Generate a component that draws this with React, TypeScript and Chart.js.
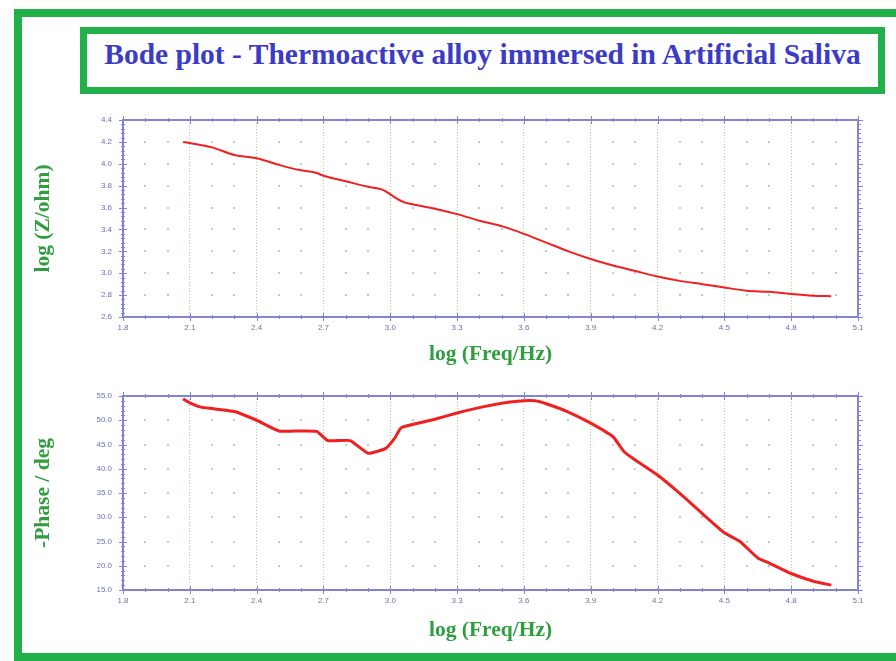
import React, { useEffect, useRef } from "react";
import { Chart, registerables } from "chart.js";

Chart.register(...registerables);

// ---------- data ----------
const TITLE = "Bode plot - Thermoactive alloy immersed in Artificial Saliva";
const X_TITLE = "log (Freq/Hz)";
const MAG_TITLE = "log (Z/ohm)";
const PHASE_TITLE = "-Phase / deg";

const xTicks = [1.8, 2.1, 2.4, 2.7, 3.0, 3.3, 3.6, 3.9, 4.2, 4.5, 4.8, 5.1];
const magTicks = [2.6, 2.8, 3.0, 3.2, 3.4, 3.6, 3.8, 4.0, 4.2, 4.4];
const phaseTicks = [15, 20, 25, 30, 35, 40, 45, 50, 55];

const magFreq = [
  2.07, 2.1, 2.2, 2.3, 2.4, 2.5, 2.6, 2.67, 2.7, 2.8, 2.9, 2.97, 3.0, 3.06, 3.1,
  3.2, 3.3, 3.4, 3.5, 3.6, 3.7, 3.8, 3.9, 4.0, 4.1, 4.2, 4.3, 4.4, 4.5, 4.6, 4.7,
  4.8, 4.9, 4.98,
];
const logZ = [
  4.2, 4.19, 4.15, 4.08, 4.05, 3.99, 3.94, 3.915, 3.89, 3.84, 3.79, 3.76, 3.72,
  3.65, 3.63, 3.59, 3.54, 3.48, 3.43, 3.36, 3.28, 3.2, 3.13, 3.07, 3.02, 2.97,
  2.93, 2.9, 2.87, 2.84, 2.83, 2.81, 2.795, 2.79,
];

const phaseFreq = [
  2.07, 2.1, 2.15, 2.2, 2.3, 2.4, 2.5, 2.6, 2.67, 2.72, 2.82, 2.9, 2.98, 3.02,
  3.05, 3.2, 3.3, 3.4, 3.5, 3.6, 3.65, 3.7, 3.8, 3.9, 4.0, 4.05, 4.1, 4.2, 4.3,
  4.4, 4.5, 4.57, 4.65, 4.7, 4.8, 4.9, 4.98,
];
const phase = [
  54.4, 53.6, 52.7, 52.4, 51.8, 50.0, 47.8, 47.8, 47.7, 45.8, 45.8, 43.2, 44.2,
  46.3, 48.5, 50.2, 51.5, 52.6, 53.5, 54.0, 54.0, 53.4, 51.7, 49.4, 46.6, 43.5,
  41.8, 38.7, 34.9, 30.8, 26.8, 25.0, 21.6, 20.6, 18.4, 16.8, 16.0,
];

// ---------- styles ----------
const FRAME_GREEN = "#22b04b";
const TITLE_BLUE = "#3b3bc6";
const AXIS_TITLE_GREEN = "#2f9e3f";
const AXIS_BLUE = "#8484d4";
const TICK_TEXT = "#6f6fae";
const GRID_GREEN = "rgba(160,205,120,0.9)";
const DOT_GREY = "rgba(190,190,190,0.85)";
const RED = "#f02020";

const decorPlugin = {
  id: "decor",
  beforeDatasetsDraw(chart: any, _args: any, opts: any) {
    const { ctx, chartArea: a, scales } = chart;
    const x = scales.x;
    const y = scales.y;
    ctx.save();
    ctx.fillStyle = DOT_GREY;
    const nx = Math.round((x.max - x.min) / opts.xMinor);
    for (let i = 1; i < nx; i++) {
      if (i % 3 === 0) continue;
      const px = x.getPixelForValue(x.min + i * opts.xMinor);
      for (const t of y.ticks) {
        const py = y.getPixelForValue(t.value);
        if (py <= a.top + 2 || py >= a.bottom - 2) continue;
        ctx.fillRect(Math.round(px) - 1, Math.round(py) - 1, 2, 2);
      }
    }
    ctx.restore();
  },
  afterDraw(chart: any, _args: any, opts: any) {
    const { ctx, chartArea: a, scales } = chart;
    const x = scales.x;
    const y = scales.y;
    ctx.save();
    ctx.strokeStyle = AXIS_BLUE;
    ctx.lineWidth = 2;
    ctx.strokeRect(a.left, a.top, a.right - a.left, a.bottom - a.top);
    ctx.lineWidth = 1;
    ctx.beginPath();
    const nx = Math.round((x.max - x.min) / opts.xMinor);
    for (let i = 0; i <= nx; i++) {
      const px = Math.round(x.getPixelForValue(x.min + i * opts.xMinor)) + 0.5;
      const len = i % 3 === 0 ? 4 : 2;
      ctx.moveTo(px, a.bottom - len);
      ctx.lineTo(px, a.bottom + len);
      ctx.moveTo(px, a.top - len);
      ctx.lineTo(px, a.top + len);
    }
    const ny = Math.round((y.max - y.min) / opts.yMinor);
    for (let i = 0; i <= ny; i++) {
      const py = Math.round(y.getPixelForValue(y.min + i * opts.yMinor)) + 0.5;
      const len = i % 5 === 0 ? 4 : 2;
      ctx.moveTo(a.left - len, py);
      ctx.lineTo(a.left + len, py);
      ctx.moveTo(a.right - 1, py);
      ctx.lineTo(a.right + len + 1, py);
    }
    ctx.stroke();
    ctx.restore();
  },
};

type PanelProps = {
  top: number;
  xs: number[];
  ys: number[];
  yTicks: number[];
  yMinor: number;
  yTitle: string;
  lineWidth: number;
  padTop: number;
  xAxisH: number;
  xTitlePad: number;
  tension: number;
  monotone: boolean;
};

const W = 896;
const H = 270;

function Panel(p: PanelProps) {
  const ref = useRef<HTMLCanvasElement | null>(null);
  useEffect(() => {
    if (!ref.current) return;
    const tickFont = { family: "'Liberation Sans', Arial, sans-serif", size: 8 };
    const titleFont = {
      family: "'Liberation Serif', 'Times New Roman', serif",
      size: 21.5,
      weight: "bold" as const,
    };
    const chart = new Chart(ref.current, {
      type: "line",
      data: {
        datasets: [
          {
            data: p.xs.map((x, i) => ({ x, y: p.ys[i] })),
            borderColor: RED,
            borderWidth: p.lineWidth,
            pointRadius: 0,
            tension: p.tension,
            cubicInterpolationMode: p.monotone ? "monotone" : "default",
            fill: false,
          },
        ],
      },
      plugins: [decorPlugin],
      options: {
        animation: false,
        responsive: false,
        devicePixelRatio: 1,
        layout: { padding: { top: p.padTop, right: 38, left: 0, bottom: 0 } },
        plugins: {
          legend: { display: false },
          tooltip: { enabled: false },
          decor: { xMinor: 0.1, yMinor: p.yMinor },
        } as any,
        scales: {
          x: {
            type: "linear",
            min: xTicks[0],
            max: xTicks[xTicks.length - 1],
            afterBuildTicks: (s: any) => {
              s.ticks = xTicks.map((v) => ({ value: v }));
            },
            afterFit: (s: any) => {
              s.height = p.xAxisH;
            },
            ticks: {
              font: tickFont,
              color: TICK_TEXT,
              padding: 6,
              maxRotation: 0,
              autoSkip: false,
              callback: (v: any) => Number(v).toFixed(1),
            },
            grid: { color: GRID_GREEN, lineWidth: 1, drawTicks: false },
            border: { display: false, dash: [1, 2] },
            title: {
              display: true,
              text: X_TITLE,
              color: AXIS_TITLE_GREEN,
              font: titleFont,
              padding: { top: 0, bottom: p.xTitlePad },
            },
          },
          y: {
            type: "linear",
            min: p.yTicks[0],
            max: p.yTicks[p.yTicks.length - 1],
            afterBuildTicks: (s: any) => {
              s.ticks = p.yTicks.map((v) => ({ value: v }));
            },
            afterFit: (s: any) => {
              s.width = 123;
            },
            ticks: {
              font: tickFont,
              color: TICK_TEXT,
              padding: 11,
              autoSkip: false,
              callback: (v: any) => Number(v).toFixed(1),
            },
            grid: { display: false, drawTicks: false },
            border: { display: false },
            title: {
              display: true,
              text: p.yTitle,
              color: AXIS_TITLE_GREEN,
              font: titleFont,
              padding: { top: 31, bottom: 0 },
            },
          },
        },
      },
    });
    return () => chart.destroy();
  }, []);
  return (
    <canvas
      ref={ref}
      width={W}
      height={H}
      style={{ position: "absolute", left: 0, top: p.top, width: W, height: H }}
    />
  );
}

export default function App() {
  return (
    <div
      style={{
        position: "absolute",
        left: 0,
        top: 0,
        width: 896,
        height: 661,
        overflow: "hidden",
        background: "#ffffff",
      }}
    >
      <div
        style={{
          position: "absolute",
          left: 14,
          top: 9,
          width: 900,
          height: 652,
          boxSizing: "border-box",
          border: `8px solid ${FRAME_GREEN}`,
          borderRight: "none",
        }}
      />
      <div
        style={{
          position: "absolute",
          left: 80,
          top: 27,
          width: 805,
          height: 67,
          boxSizing: "border-box",
          border: `7px solid ${FRAME_GREEN}`,
          background: "#fff",
        }}
      >
        <div
          style={{
            position: "absolute",
            left: 0,
            right: 0,
            top: 5,
            textAlign: "center",
            whiteSpace: "nowrap",
            fontFamily: "'Liberation Serif', 'Times New Roman', serif",
            fontWeight: "bold",
            fontSize: 29.5,
            lineHeight: "30px",
            color: TITLE_BLUE,
          }}
        >
          {TITLE}
        </div>
      </div>
      <Panel
        top={100}
        xs={magFreq}
        ys={logZ}
        yTicks={magTicks}
        yMinor={0.04}
        yTitle={MAG_TITLE}
        lineWidth={2}
        padTop={20}
        xAxisH={53}
        xTitlePad={3}
        tension={0.3}
        monotone={true}
      />
      <Panel
        top={380}
        xs={phaseFreq}
        ys={phase}
        yTicks={phaseTicks}
        yMinor={1}
        yTitle={PHASE_TITLE}
        lineWidth={3}
        padTop={16}
        xAxisH={60}
        xTitlePad={7}
        tension={0.15}
        monotone={false}
      />
    </div>
  );
}
